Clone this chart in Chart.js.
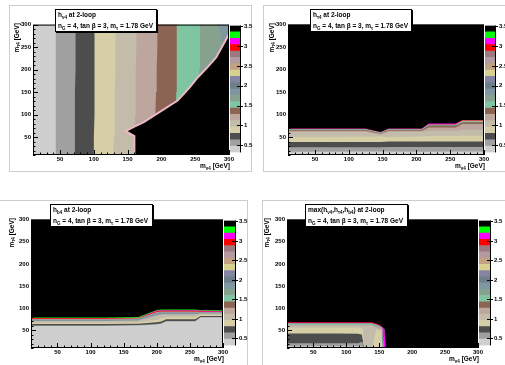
<!DOCTYPE html>
<html>
<head>
<meta charset="utf-8">
<title>Yukawa couplings at 2-loop</title>
<script src="https://cdn.jsdelivr.net/npm/chart.js@4.4.0/dist/chart.umd.min.js"></script>
<style>
  body { margin: 0; background: #fff; }
  #page { position: relative; width: 505px; height: 365px; overflow: hidden; background: #fff;
          font-family: "Liberation Sans", Arial, sans-serif; font-weight: bold; color: #000; }
  .pad { position: absolute; box-sizing: border-box; border: 1px solid #cdcdcd; background: #fff; }
  canvas { position: absolute; }
  .box { position: absolute; box-sizing: border-box; background: #fff; border: 1px solid #000;
         box-shadow: 1px 1px 0 #000; font-size: 6.5px; padding-left: 2px; white-space: nowrap; }
  .xt, .yt { position: absolute; font-size: 6.5px; white-space: nowrap; line-height: 7px; }
  .yt { writing-mode: vertical-rl; transform: rotate(180deg); }
  sub { font-size: 4.5px; vertical-align: -1.5px; line-height: 0; }
</style>
</head>
<body>
<div id="page"></div>
<script>
// colour scale (z axis): 20 contour levels
const zLevels = [0.32, 0.48, 0.64, 0.80, 0.96, 1.12, 1.28, 1.44, 1.60, 1.76, 1.92,
                 2.08, 2.24, 2.40, 2.56, 2.72, 2.88, 3.04, 3.20, 3.36, 3.52];
const zColors = ['#cfcfcf', '#a0a0a0', '#4d4d4d', '#d5cea6', '#c3bcaa', '#bca69d', '#8b6454',
                 '#80c5a1', '#86a18d', '#7f97a1', '#6f7f89', '#8584a3', '#d8d08e', '#c1a182',
                 '#b39aa0', '#9b7a7f', '#ff0000', '#ff00ff', '#00ff00', '#000000'];
const zTicks = [0.5, 1, 1.5, 2, 2.5, 3, 3.5];
const axisTicks = [50, 100, 150, 200, 250, 300];
const massMin = 10, massMax = 300;
// polygons are closed a little outside the frame, the chart area clips them
const outLo = 0, outHi = 310;

// panel 1 (vertical stripes): left edge of each level at p1Y
const p1Y       = [outLo, 50, 100, 150, 200, 250, outHi];
const p1GrayX   = [43, 43, 44, 43, 44, 44, 44];
const p1DarkX   = [71, 72, 72, 72, 73, 73, 73];
const p1BeigeX  = [100, 100, 101, 101, 101, 101, 101];
const p1GreigeX = [128, 130, 131, 131, 132, 132, 132];
const p1RosyX   = [158, 160, 161, 162, 162, 163, 163];
const p1BrownX  = [190, 191, 191, 192, 193, 194, 194];
const p1MintX   = [219, 220, 221, 222, 222, 223, 223];
const p1SageX   = [253, 254, 254, 255, 256, 257, 257];
const p1SteelX  = [outHi, outHi, outHi, outHi, outHi, 292, 282];
// panel 1 edge of the black (> 3.5) region
const p1EdgeX = [160, 160, 147, 160, 174, 224, 241, 254, 268, 281, 292, 300, outHi];
const p1EdgeY = [outLo, 52, 63, 73, 83, 131, 159, 183, 205, 227, 257, 279, 285];

// panel 2 (horizontal bands): lower edge of each level at p2X
const p2X        = [outLo, 60, 124, 147, 159, 208, 218, 258, 268, outHi];
const p2Gray     = [17, 17, 18, 18, 18, 17, 17, 18, 18, 18];
const p2Dark     = [27, 27, 27, 27, 28, 28, 28, 28, 28, 28];
const p2Beige    = [39, 39, 39, 39, 40, 40, 40, 40, 40, 40];
const p2Greige   = [50, 50, 51, 51, 50, 51, 52, 52, 53, 53];
const p2Rosy     = [61, 61, 61, 55, 61, 61.5, 64, 64, 66, 66];
const p2Brown    = [64, 64, 64, 57, 64, 64, 71, 71, 79, 79];
const p2Mint     = [66, 66, 66, 58.5, 66, 66, 75.5, 75.5, 83, 83];
const p2Pink     = [67.5, 67.5, 67.5, 59.5, 67.5, 67.5, 77, 77, 85, 85];
const p2Red      = [69, 69, 69, 61, 69, 69, 78.5, 78.5, 86.5, 86.5];
const p2Magenta  = [69, 69, 69, 61, 69, 69, 78.5, 78.5, 88, 88];
const p2Black    = [69, 69, 69, 61, 69, 69, 80, 80, 88, 88];

// panel 3
const p3X        = [outLo, 60, 120, 172, 200, 207, 214, 258, 266, outHi];
const p3Gray     = [60, 60, 60, 61, 63, 65, 70, 70, 79, 79];
const p3Dark     = [61, 61, 61, 62, 64, 66, 71, 71, 80, 80];
const p3Beige    = [64, 64, 64, 65, 68, 70, 75, 75, 82, 82];
const p3Greige   = [67, 67, 67, 68, 74, 77, 80, 80, 85, 85];
const p3Steel    = [71, 71, 71, 72, 84, 86, 86, 86, 88, 88];
const p3Pink     = [74, 74, 74, 75, 89, 90, 90, 90, 90, 90];
const p3Red      = [76, 76, 76, 77, 91.5, 92.5, 92.5, 92.5, 92, 91.5];
const p3Magenta  = [77.5, 77.5, 77.5, 78.5, 93, 94, 94, 94, 93, 92.5];
const p3Green    = [77.5, 77.5, 77.5, 78.5, 94.5, 95.5, 95.5, 95.5, 94.5, 93.5];
const p3Black    = [79, 79, 79, 80, 96, 97, 97, 97, 96, 95];

// panel 4 (maximum of the three)
const p4X        = [outLo, 60, 90, 118, 124, 128, 138, 146, 151, 153.5, 155, 157, 158, 160, outHi];
const p4Gray     = [14, 14, 14, 14, 14, outLo, outLo, outLo, outLo, outLo, outLo, outLo, outLo, outLo, outLo];
const p4Dark     = [21, 21, 21, 21, 24, outLo, outLo, outLo, outLo, outLo, outLo, outLo, outLo, outLo, outLo];
const p4Beige    = [43, 43, 43, 42, 40, outLo, outLo, outLo, outLo, outLo, outLo, outLo, outLo, outLo, outLo];
const p4Greige   = [56, 56, 56, 56, 56, outLo, outLo, 52, 50, 48, outLo, outLo, outLo, outLo, outLo];
const p4Rosy     = [60, 60, 60, 60, 60, 60, 60, 56, 53, 51, outLo, outLo, outLo, outLo, outLo];
const p4Mint     = [62, 62, 62, 62, 62, 62, 62, 59, 56, 53, outLo, outLo, outLo, outLo, outLo];
const p4Steel    = [64, 64, 64, 64, 64, 64, 64, 61, 58, 55, outLo, outLo, outLo, outLo, outLo];
const p4Pink     = [65.5, 65.5, 65.5, 65.5, 65.5, 65.5, 65.5, 62.5, 59.5, 56.5, 55, outLo, outLo, outLo, outLo];
const p4Red      = [66.5, 66.5, 66.5, 66.5, 66.5, 66.5, 66.5, 63.5, 60.5, 57.5, 56, outLo, outLo, outLo, outLo];
const p4Magenta  = [68, 68, 68, 68, 68, 68, 68, 65, 62, 59, 57.5, outLo, outLo, outLo, outLo];
const p4Black    = [68, 68, 68, 68, 68, 68, 68, 65, 62, 59, 57.5, 54, 53, outLo, outLo];

const C = {
  lgray: zColors[0], gray: zColors[1], dark: zColors[2], beige: zColors[3], greige: zColors[4],
  rosy: zColors[5], brown: zColors[6], mint: zColors[7], sage: zColors[8], steel: zColors[9],
  pink: zColors[14], red: zColors[16], magenta: zColors[17], green: zColors[18], black: zColors[19]
};

const subTitle = 'n<sub>G</sub> = 4, tan β = 3, m<sub>τ</sub> = 1.78 GeV';
const panels = [
  { pad: [9, 5, 243, 167], plot: [33, 23, 196, 132], pal: [230, 11], box: [55, 9, 102, 23], yTitle: 16.5,
    title: 'h<sub>ν4</sub> at 2-loop' },
  { pad: [263, 5, 250, 167], plot: [288, 23, 196, 132], pal: [485, 11], box: [310, 9, 102, 23], yTitle: 17,
    title: 'h<sub>τ4</sub> at 2-loop' },
  { pad: [-2, 200, 250, 170], plot: [31, 218, 192, 130], pal: [224, 12], box: [50, 204, 103, 23], yTitle: 20,
    title: 'h<sub>b4</sub> at 2-loop' },
  { pad: [262, 200, 250, 170], plot: [287, 218, 191, 130], pal: [479, 12], box: [305, 204, 103, 23], yTitle: 21,
    title: 'max(h<sub>ν4</sub>,h<sub>τ4</sub>,h<sub>b4</sub>) at 2-loop' }
];

Chart.defaults.font.family = '"Liberation Sans", Arial, sans-serif';
Chart.defaults.font.size = 6;
Chart.defaults.font.weight = 'bold';
Chart.defaults.color = '#000';

const page = document.getElementById('page');

function addDiv(cls, html, css) {
  const d = document.createElement('div');
  d.className = cls;
  d.innerHTML = html;
  Object.assign(d.style, css);
  page.appendChild(d);
  return d;
}

function addCanvas(left, top, w, h) {
  const c = document.createElement('canvas');
  c.width = w; c.height = h;
  Object.assign(c.style, { left: left + 'px', top: top + 'px', width: w + 'px', height: h + 'px' });
  page.appendChild(c);
  return c;
}

// one polygon per contour level, from its own edge up to the next level's edge
// (plus a small overlap so no seam is left between neighbours)
function contourLayers(along, levels, vertical) {
  const base = along.map(() => outLo);
  const top = along.map(() => outHi);
  const all = [[C.lgray, base]].concat(levels);
  const edge = vals => along.map((a, k) => vertical ? { x: vals[k], y: a } : { x: a, y: vals[k] });
  return all.map(([color, lo], i) => {
    const hi = i + 1 < all.length ? all[i + 1][1].map(v => v + 2) : top;
    return { color, pts: edge(lo).concat(edge(hi).reverse()) };
  });
}

// draws the frame and the inner tick marks like ROOT does
const frameMarks = {
  id: 'frameMarks',
  afterDatasetsDraw(chart) {
    const { ctx, chartArea: a, scales: { x, y } } = chart;
    ctx.save();
    ctx.strokeStyle = '#000';
    ctx.lineWidth = 1;
    ctx.beginPath();
    for (let v = massMin; v <= massMax; v += 10) {
      const len = v % 50 === 0 ? 5 : 2.5;
      const px = Math.round(x.getPixelForValue(v)) + 0.5;
      ctx.moveTo(px, a.bottom); ctx.lineTo(px, a.bottom - len);
      const py = Math.round(y.getPixelForValue(v)) + 0.5;
      ctx.moveTo(a.left, py); ctx.lineTo(a.left + len, py);
    }
    ctx.stroke();
    ctx.strokeRect(a.left + 0.5, a.top + 0.5, a.width - 1, a.height - 1);
    ctx.restore();
  }
};

const paletteMarks = {
  id: 'paletteMarks',
  afterDatasetsDraw(chart) {
    const { ctx, chartArea: a, scales: { y } } = chart;
    ctx.save();
    ctx.strokeStyle = '#000';
    ctx.lineWidth = 1;
    ctx.beginPath();
    zTicks.forEach(v => {
      const py = Math.round(y.getPixelForValue(v)) + 0.5;
      ctx.moveTo(a.right - 4, py); ctx.lineTo(a.right + 2, py);
    });
    ctx.moveTo(a.right - 0.5, a.top); ctx.lineTo(a.right - 0.5, a.bottom);
    ctx.stroke();
    ctx.restore();
  }
};

function drawPanel(p, layers) {
  const [L, T, W, H] = p.plot;
  const [pl, pw] = p.pal;
  const [bx, by, bw, bh] = p.pad;
  addDiv('pad', '', { left: bx + 'px', top: by + 'px', width: bw + 'px', height: bh + 'px' });

  const datasets = layers.map((l, i) => l.line ? {
    data: l.pts, showLine: true, fill: false, borderColor: l.line, borderWidth: l.width,
    pointRadius: 0, order: -i
  } : {
    data: l.pts, showLine: true, fill: 'shape', backgroundColor: l.color,
    borderColor: 'rgba(0,0,0,0)', borderWidth: 0, pointRadius: 0, order: -i
  });

  new Chart(addCanvas(L - 32, T - 4, W + 40, H + 20), {
    type: 'scatter',
    data: { datasets },
    options: {
      responsive: false, animation: false, events: [],
      layout: { autoPadding: false, padding: { left: 0, top: 4, right: 8, bottom: 0 } },
      plugins: { legend: { display: false }, tooltip: { enabled: false } },
      scales: {
        x: {
          type: 'linear', min: massMin, max: massMax,
          grid: { display: false, drawTicks: false }, border: { display: false },
          afterBuildTicks: s => { s.ticks = axisTicks.map(v => ({ value: v })); },
          afterFit: s => { s.height = 16; },
          ticks: { padding: 1, autoSkip: false, maxRotation: 0 }
        },
        y: {
          type: 'linear', min: massMin, max: massMax,
          grid: { display: false, drawTicks: false }, border: { display: false },
          afterBuildTicks: s => { s.ticks = axisTicks.map(v => ({ value: v })); },
          afterFit: s => { s.width = 32; },
          ticks: { padding: 2, autoSkip: false }
        }
      }
    },
    plugins: [frameMarks]
  });

  // colour palette on the right
  new Chart(addCanvas(pl, T - 4, pw + 20, H + 8), {
    type: 'bar',
    data: {
      labels: ['z'],
      datasets: zColors.map((c, i) => ({
        data: [[zLevels[i], zLevels[i + 1]]], backgroundColor: c, borderWidth: 0,
        barPercentage: 1, categoryPercentage: 1, grouped: false
      }))
    },
    options: {
      responsive: false, animation: false, events: [],
      layout: { autoPadding: false, padding: { left: 0, top: 4, right: 0, bottom: 4 } },
      plugins: { legend: { display: false }, tooltip: { enabled: false } },
      scales: {
        x: { display: false },
        y: {
          position: 'right', min: zLevels[0], max: zLevels[zLevels.length - 1],
          grid: { display: false, drawTicks: false }, border: { display: false },
          afterBuildTicks: s => { s.ticks = zTicks.map(v => ({ value: v })); },
          afterFit: s => { s.width = 20; },
          ticks: { padding: 3, autoSkip: false, callback: v => String(v) }
        }
      }
    },
    plugins: [paletteMarks]
  });

  addDiv('box', '<div>' + p.title + '</div><div>' + subTitle + '</div>', {
    left: p.box[0] + 'px', top: p.box[1] + 'px', width: p.box[2] + 'px', height: p.box[3] + 'px',
    lineHeight: (p.box[3] - 2) / 2 + 'px'
  });
  addDiv('xt', 'm<sub>ν4</sub> [GeV]', { right: (505 - (L + W + 1)) + 'px', top: (T + H + 7) + 'px' });
  addDiv('yt', 'm<sub>τ4</sub> [GeV]', { left: (L - p.yTitle - 3.5) + 'px', top: T + 'px' });
}

const p1Edge = p1EdgeX.map((x, i) => ({ x, y: p1EdgeY[i] }));
drawPanel(panels[0], contourLayers(p1Y, [
  [C.gray, p1GrayX], [C.dark, p1DarkX], [C.beige, p1BeigeX], [C.greige, p1GreigeX],
  [C.rosy, p1RosyX], [C.brown, p1BrownX], [C.mint, p1MintX], [C.sage, p1SageX], [C.steel, p1SteelX]
], true).concat([
  { pts: p1Edge.concat([{ x: outHi, y: outLo }]), color: C.black },
  { pts: p1Edge, line: '#ecb8c4', width: 2 }
]));

drawPanel(panels[1], contourLayers(p2X, [
  [C.gray, p2Gray], [C.dark, p2Dark], [C.beige, p2Beige], [C.greige, p2Greige], [C.rosy, p2Rosy],
  [C.brown, p2Brown], [C.mint, p2Mint], [C.pink, p2Pink], [C.red, p2Red], [C.magenta, p2Magenta],
  [C.black, p2Black]
], false));

drawPanel(panels[2], contourLayers(p3X, [
  [C.gray, p3Gray], [C.dark, p3Dark], [C.beige, p3Beige], [C.greige, p3Greige], [C.steel, p3Steel],
  [C.pink, p3Pink], [C.red, p3Red], [C.magenta, p3Magenta], [C.green, p3Green], [C.black, p3Black]
], false));

drawPanel(panels[3], contourLayers(p4X, [
  [C.gray, p4Gray], [C.dark, p4Dark], [C.beige, p4Beige], [C.greige, p4Greige], [C.rosy, p4Rosy],
  [C.mint, p4Mint], [C.steel, p4Steel], [C.pink, p4Pink], [C.red, p4Red], [C.magenta, p4Magenta],
  [C.black, p4Black]
], false));
</script>
</body>
</html>
